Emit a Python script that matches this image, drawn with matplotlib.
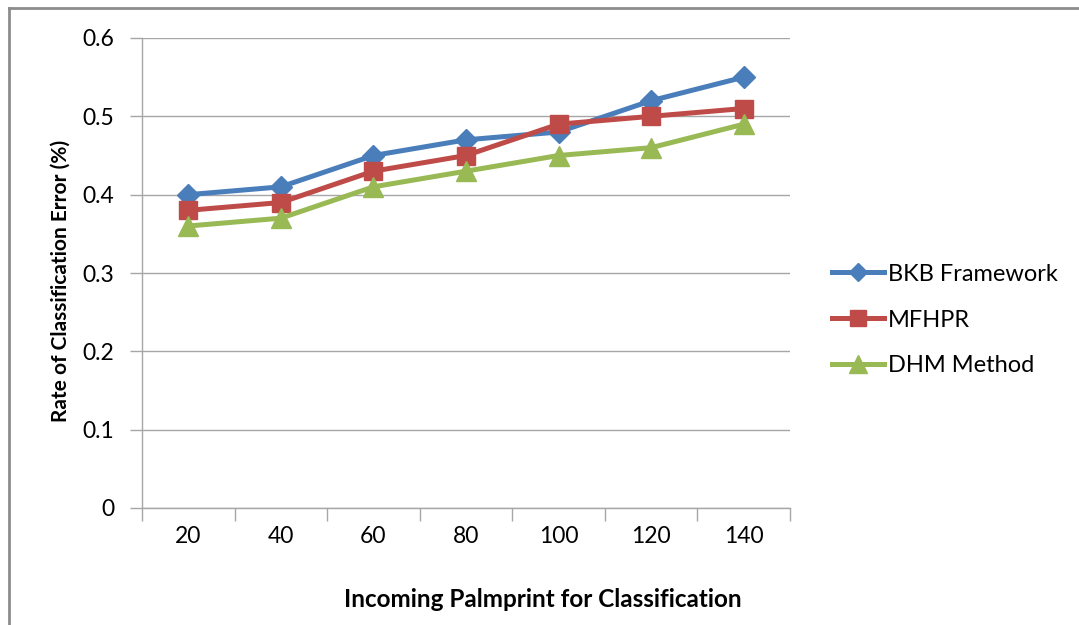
import matplotlib.pyplot as plt
from matplotlib.lines import Line2D

palmprints = [20, 40, 60, 80, 100, 120, 140]
bkb = [0.40, 0.41, 0.45, 0.47, 0.48, 0.52, 0.55]
mfhpr = [0.38, 0.39, 0.43, 0.45, 0.49, 0.50, 0.51]
dhm = [0.36, 0.37, 0.41, 0.43, 0.45, 0.46, 0.49]

plt.rcParams["font.family"] = ["Lato", "DejaVu Sans"]
grid_col = "#a6a6a6"

fig = plt.figure(figsize=(10.79, 6.25), dpi=100)
ax = fig.add_axes([0.1316, 0.1872, 0.6006, 0.752])

pos = list(range(len(palmprints)))
ax.plot(pos, bkb, color="#4a7ebb", lw=3.6, marker="D", ms=11, label="BKB Framework")
ax.plot(pos, mfhpr, color="#be4b48", lw=3.6, marker="s", ms=13, label="MFHPR")
ax.plot(pos, dhm, color="#98b954", lw=3.6, marker="^", ms=15, label="DHM Method")

ax.set_xlim(-0.5, len(palmprints) - 0.5)
ax.set_ylim(0, 0.6)
ax.set_yticks([0, 0.1, 0.2, 0.3, 0.4, 0.5, 0.6])
ax.set_yticklabels(["0", "0.1", "0.2", "0.3", "0.4", "0.5", "0.6"])
ax.set_xticks(pos)
ax.set_xticklabels([str(p) for p in palmprints])
ax.tick_params(axis="x", length=0, pad=13, labelsize=16.5)
ax.tick_params(axis="y", length=9, width=1, color=grid_col, pad=11, labelsize=16.5)
# category boundary ticks on the x axis
ax.set_xticks([p - 0.5 for p in pos] + [len(pos) - 0.5], minor=True)
ax.tick_params(axis="x", which="minor", length=9, width=1, color=grid_col)

ax.grid(axis="y", color=grid_col, lw=1)
ax.set_axisbelow(True)
for s in ["top", "right"]:
    ax.spines[s].set_visible(False)
for s in ["left", "bottom"]:
    ax.spines[s].set_color(grid_col)
    ax.spines[s].set_linewidth(1)

fig.text(0.056, 0.55, "Rate of Classification Error (%)", fontsize=15, fontweight="bold",
         rotation=90, ha="center", va="center")
fig.text(0.503, 0.041, "Incoming Palmprint for Classification", fontsize=17.5,
         fontweight="bold", ha="center", va="center")

ax.legend(loc="center left", bbox_to_anchor=(1.032, 0.40), frameon=False, fontsize=17,
          handlelength=2.2, labelspacing=1.05, handletextpad=0.15, markerscale=0.85)

# outer chart border
fig.add_artist(Line2D([0.0085, 0.0085], [0, 0.987], color="#8c8c8c", lw=2))
fig.add_artist(Line2D([0.0085, 1.0], [0.987, 0.987], color="#8c8c8c", lw=2))

fig.savefig("out.png", dpi=100)
